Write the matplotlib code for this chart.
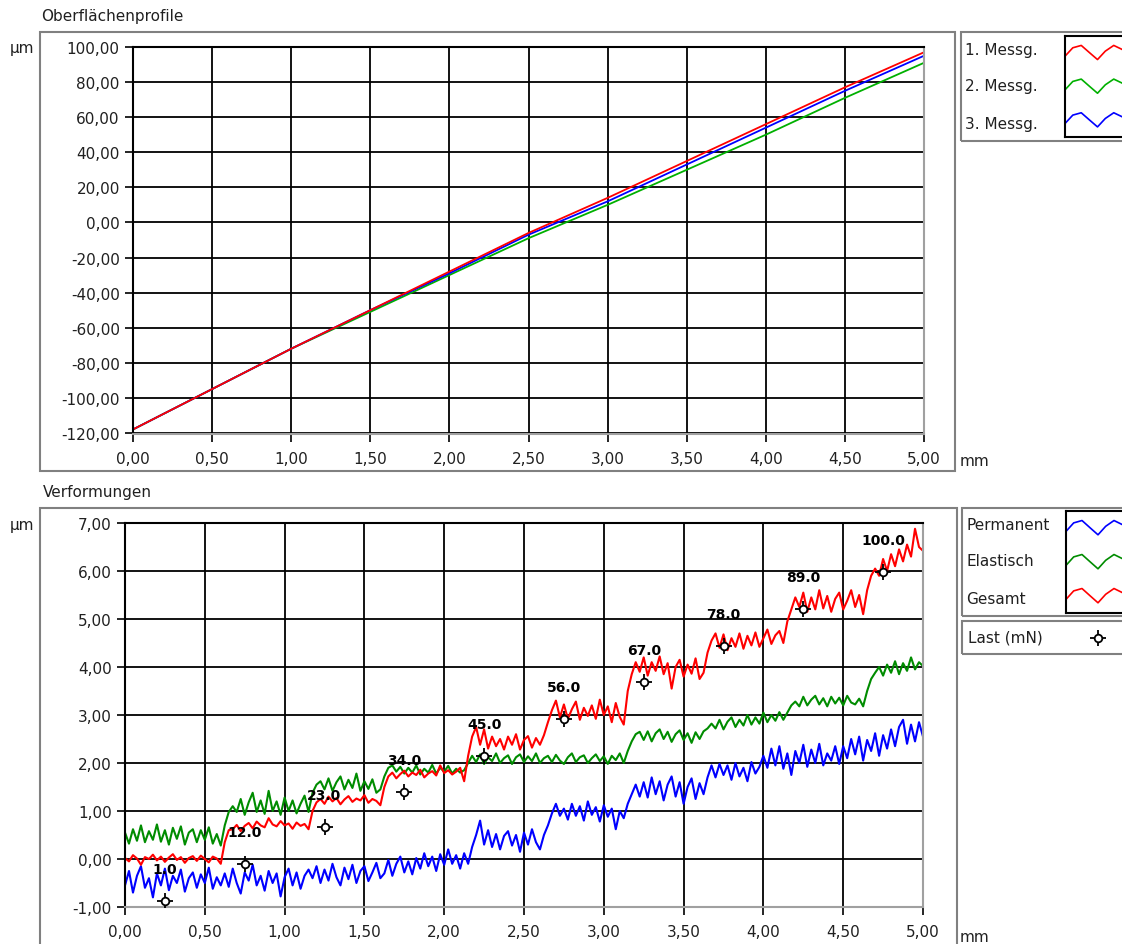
import numpy as np
import matplotlib
matplotlib.use("Agg")
import matplotlib.pyplot as plt
from matplotlib.patches import Rectangle
from matplotlib.ticker import FuncFormatter, MultipleLocator

plt.rcParams['font.family'] = ['DejaVu Sans']

# --- Oberflächenprofile: values read every 0,5 mm
prof_x = [0.0, 0.5, 1.0, 1.5, 2.0, 2.5, 3.0, 3.5, 4.0, 4.5, 5.0]
messg1 = [-118, -95, -72, -50, -28, -6, 14, 35, 56, 77, 97]
messg2 = [-118, -95, -72, -51, -30, -9, 10, 30, 50, 71, 91]
messg3 = [-118, -95, -72, -50, -29, -7, 12, 33, 54, 75, 95]
prof_names = ['1. Messg.', '2. Messg.', '3. Messg.']

# --- Verformungen: one value every 0,025 mm (201 points)
gesamt = [
    0.02, -0.05, 0.08, 0.01, -0.12, 0.04, 0.0, 0.09, -0.03, 0.05,
    -0.06, 0.03, 0.1, -0.02, 0.04, -0.08, 0.02, 0.06, -0.04, 0.07,
    0.0, -0.07, 0.05, 0.01, -0.1, 0.35, 0.6,
    0.62, 0.71, 0.58, 0.69, 0.75, 0.64, 0.78, 0.7, 0.66, 0.85,
    0.72, 0.68, 0.79, 0.7, 0.74, 0.63, 0.76, 0.69, 0.73, 0.62,
    1.0, 1.18,
    1.25, 1.15, 1.3, 1.2, 1.27, 1.14, 1.24, 1.31, 1.19, 1.26,
    1.22, 1.33, 1.17, 1.25, 1.21, 1.12,
    1.5, 1.72,
    1.8, 1.68, 1.77, 1.84, 1.72, 1.8, 1.75, 1.86, 1.7, 1.78,
    1.83, 1.74, 1.95, 1.79, 1.85, 1.76, 1.82, 1.9, 1.62,
    2.15, 2.55, 2.75,
    2.38, 2.7, 2.3, 2.55, 2.35, 2.5, 2.28, 2.55, 2.38, 2.6,
    2.28, 2.48, 2.56, 2.32, 2.52, 2.38, 2.58,
    2.85, 3.1, 3.3,
    2.95, 3.22, 2.92, 3.12, 3.28, 2.9, 3.15, 2.98, 3.2, 2.92,
    3.32, 3.0, 3.18, 2.85, 3.25, 2.96, 2.8,
    3.5, 3.85, 4.1,
    3.9, 4.2, 3.82, 4.1, 3.92, 4.22, 3.85, 4.08, 3.55, 4.0,
    4.15, 3.8, 4.05, 3.86, 4.18, 3.75, 3.88,
    4.3, 4.55, 4.7,
    4.4, 4.68, 4.35, 4.6, 4.42, 4.7, 4.38, 4.65, 4.45, 4.72,
    4.42, 4.6, 4.78, 4.48, 4.66, 4.75, 4.5,
    4.95, 5.2, 5.45,
    5.25, 5.55, 5.15, 5.45, 5.2, 5.6, 5.22, 5.48, 5.15, 5.42,
    5.55, 5.2, 5.38, 5.6, 5.25, 5.5, 5.1,
    5.6, 5.9, 6.05,
    5.9, 6.25, 6.0, 6.35, 6.1, 6.45, 6.2, 6.55, 6.3, 6.88,
    6.5, 6.42,
]
elastisch = [
    0.55, 0.32, 0.62, 0.38, 0.7, 0.35, 0.58, 0.4, 0.72, 0.36,
    0.6, 0.3, 0.65, 0.42, 0.68, 0.3, 0.55, 0.62, 0.35, 0.6,
    0.4, 0.66, 0.32, 0.52, 0.28,
    0.7, 0.98, 1.1,
    0.98, 1.25, 0.92, 1.18, 1.38, 0.98, 1.22, 0.94, 1.42, 1.0,
    1.2, 0.92, 1.28, 1.0, 1.22, 0.95, 1.15, 1.32, 0.98,
    1.38, 1.55, 1.62,
    1.45, 1.68, 1.42, 1.6, 1.72, 1.45, 1.65, 1.48, 1.78, 1.42,
    1.62, 1.46, 1.66, 1.38, 1.45,
    1.72, 1.9, 1.95,
    1.82, 1.92, 1.78, 1.9, 1.8, 1.95, 1.76, 1.88, 1.8, 1.96,
    1.78, 1.9, 1.82, 1.94, 1.78, 1.88, 1.8, 1.85,
    2.0, 2.15, 2.02, 2.18, 1.98, 2.12, 2.04, 2.2, 2.0, 2.1,
    2.16, 1.98, 2.12, 2.18, 2.02, 2.14, 2.04, 2.2, 2.0, 2.1,
    2.15, 2.02, 2.17, 2.05, 1.98, 2.12, 2.2, 2.02, 2.12, 2.16,
    2.0, 2.1, 2.18, 2.04, 2.14, 1.98, 2.15, 2.06, 2.2, 2.0,
    2.25, 2.45, 2.6, 2.65,
    2.48, 2.66, 2.45, 2.62, 2.7, 2.5, 2.65, 2.44, 2.6, 2.68,
    2.48, 2.62, 2.42, 2.64, 2.5, 2.66,
    2.72, 2.82,
    2.72, 2.9, 2.7, 2.86, 2.95, 2.75, 2.9, 2.78, 3.0, 2.8,
    2.95, 2.82, 3.05, 2.85, 3.0, 2.88, 3.06, 2.9,
    3.05, 3.2, 3.28,
    3.18, 3.38, 3.2, 3.32, 3.4, 3.22, 3.35, 3.18, 3.38, 3.24,
    3.36, 3.2, 3.4, 3.26, 3.22, 3.34, 3.18,
    3.5, 3.75, 3.88, 4.0,
    3.82, 4.05, 3.88, 4.12, 3.85, 4.08, 3.92, 4.2, 3.95, 4.1,
    4.02,
]
permanent = [
    -0.55, -0.25, -0.7, -0.35, -0.15, -0.6, -0.4, -0.8, -0.3, -0.55,
    -0.2, -0.65, -0.35, -0.5, -0.22, -0.68, -0.4, -0.28, -0.6, -0.32,
    -0.5, -0.18, -0.62, -0.38, -0.55,
    -0.3, -0.58, -0.2, -0.5, -0.72, -0.28, -0.45, -0.12, -0.55, -0.35,
    -0.66, -0.25, -0.5, -0.3, -0.78, -0.38, -0.2, -0.55, -0.28, -0.62,
    -0.35, -0.22,
    -0.4, -0.15, -0.5, -0.22, -0.45, -0.1, -0.38, -0.55, -0.18, -0.42,
    -0.12, -0.5, -0.25, -0.15, -0.46, -0.28, -0.08, -0.4,
    -0.3, -0.02, -0.35, -0.1, 0.05, -0.28, -0.05, -0.32, 0.02, -0.2,
    0.12, -0.15, 0.05, -0.25, 0.1, -0.12, 0.2, -0.1, 0.08, -0.2,
    0.12, -0.1,
    0.25, 0.5, 0.8,
    0.3, 0.6, 0.25, 0.52, 0.2, 0.48, 0.58, 0.28, 0.5, 0.15,
    0.55, 0.3, 0.62, 0.35, 0.2, 0.5,
    0.7, 0.95, 1.15, 0.9,
    1.05, 0.82, 1.15, 0.9, 1.1, 0.8, 1.2, 0.92, 1.08, 0.78,
    1.12, 0.88, 1.05, 0.62, 1.0, 0.85,
    1.15, 1.35, 1.55, 1.3,
    1.6, 1.28, 1.7, 1.35, 1.62, 1.22, 1.55, 1.72, 1.3, 1.6,
    1.15, 1.5, 1.68, 1.25, 1.58, 1.35,
    1.7, 1.95, 1.7, 1.98,
    1.75, 1.95, 1.65, 2.0, 1.72, 1.9, 1.62, 2.02, 1.78, 1.92,
    2.15, 1.9, 2.3, 1.95, 2.35, 1.88, 2.2, 1.75, 2.25, 2.0,
    2.38, 1.92, 2.28, 2.0, 2.4, 1.95, 2.2, 2.05, 2.35, 1.98,
    2.35, 2.1, 2.5, 2.18, 2.55, 2.05, 2.48, 2.25, 2.62, 2.15,
    2.58, 2.3, 2.7, 2.35, 2.75, 2.9, 2.4, 2.8, 2.45, 2.85,
    2.55,
]
verf_names = ['Permanent', 'Elastisch', 'Gesamt']

# Last (mN) markers
last_x = [0.25, 0.75, 1.25, 1.75, 2.25, 2.75, 3.25, 3.75, 4.25, 4.75]
last_y = [-0.87, -0.10, 0.67, 1.40, 2.15, 2.92, 3.68, 4.44, 5.20, 5.98]
last_labels = ['1.0', '12.0', '23.0', '34.0', '45.0', '56.0', '67.0', '78.0', '89.0', '100.0']

RED, GREEN, BLUE = '#ff0000', '#008c00', '#0000ff'
W, H = 1122, 945


def rect(px0, py0, px1, py1):
    # pixel box (from top-left) -> figure fraction [left, bottom, width, height]
    return [px0 / W, 1 - py1 / H, (px1 - px0) / W, (py1 - py0) / H]


def comma(v, pos):
    return f'{v:.2f}'.replace('.', ',')


def frame_box(fig, px0, py0, px1, py1, lw=1.5):
    l, b, w, h = rect(px0, py0, px1, py1)
    fig.patches.append(Rectangle((l, b), w, h, transform=fig.transFigure,
                                 fill=False, edgecolor='#808080', lw=lw))


def style_axes(ax, xlim, ylim, ystep):
    ax.set_xlim(*xlim)
    ax.set_ylim(*ylim)
    ax.xaxis.set_major_locator(MultipleLocator(0.5))
    ax.yaxis.set_major_locator(MultipleLocator(ystep))
    ax.xaxis.set_major_formatter(FuncFormatter(comma))
    ax.yaxis.set_major_formatter(FuncFormatter(comma))
    ax.grid(True, color='black', lw=1.3)
    ax.set_axisbelow(True)
    ax.tick_params(axis='both', direction='out', length=6, width=1.2,
                   labelsize=11, colors='black', labelcolor='#202020')
    ax.tick_params(axis='x', pad=6)
    for s in ('top', 'left'):
        ax.spines[s].set_color('black')
        ax.spines[s].set_linewidth(1.5)
    for s in ('right', 'bottom'):
        ax.spines[s].set_color('#a0a0a0')
        ax.spines[s].set_linewidth(1.5)


def legend_panel(fig, box, sample_box, names, colors, label_ys):
    frame_box(fig, *box)
    for name, yy in zip(names, label_ys):
        fig.text((box[0] + 4) / W, 1 - yy / H, name, fontsize=11,
                 va='center', ha='left', color='#202020')
    lax = fig.add_axes(rect(*sample_box))
    lax.set_xlim(0, 1)
    lax.set_ylim(0, 3)
    zig_x = [0.0, 0.12, 0.25, 0.38, 0.5, 0.62, 0.75, 0.88, 1.0]
    zig_y = [-0.1, 0.15, 0.22, 0.0, -0.2, 0.05, 0.22, 0.1, -0.1]
    for i, c in enumerate(colors):
        base = 2.5 - i
        lax.plot(zig_x, [base + z for z in zig_y], color=c, lw=1.2)
    lax.set_xticks([])
    lax.set_yticks([])
    for s in lax.spines.values():
        s.set_color('black')
        s.set_linewidth(1.5)


def last_marker(ax, xs, ys, **kw):
    ax.plot(xs, ys, ls='none', marker='+', ms=12, mew=1.3, color='black', zorder=5, **kw)
    ax.plot(xs, ys, ls='none', marker='o', ms=5.5, mew=1.3, mfc='white', mec='black', zorder=6, **kw)


fig = plt.figure(figsize=(W / 100, H / 100), dpi=100)

# ---------------- top panel
frame_box(fig, 40, 33, 955, 472)
fig.text(41 / W, 1 - 16 / H, 'Oberflächenprofile', fontsize=11, va='center', color='#202020')
fig.text(10 / W, 1 - 48 / H, 'µm', fontsize=11, va='center', color='#202020')
fig.text(960 / W, 1 - 462 / H, 'mm', fontsize=11, va='center', color='#202020')

ax1 = fig.add_axes(rect(133, 48, 924, 435))
ax1.plot(prof_x, messg2, color='#00b000', lw=1.3)
ax1.plot(prof_x, messg3, color=BLUE, lw=1.3)
ax1.plot(prof_x, messg1, color=RED, lw=1.3)
style_axes(ax1, (0, 5), (-120.6, 100), 20)

legend_panel(fig, (961, 33, 1130, 142), (1065, 37, 1130, 138), prof_names,
             [RED, '#00b000', BLUE], [50, 87, 124])

# ---------------- bottom panel
frame_box(fig, 40, 509, 957, 950)
fig.text(43 / W, 1 - 492 / H, 'Verformungen', fontsize=11, va='center', color='#202020')
fig.text(10 / W, 1 - 526 / H, 'µm', fontsize=11, va='center', color='#202020')
fig.text(960 / W, 1 - 938 / H, 'mm', fontsize=11, va='center', color='#202020')

ax2 = fig.add_axes(rect(125, 524, 923, 908))
xs = np.linspace(0, 5, len(gesamt))
ax2.plot(xs, permanent, color=BLUE, lw=1.5)
ax2.plot(xs, elastisch, color=GREEN, lw=1.5)
ax2.plot(xs, gesamt, color=RED, lw=1.5)
last_marker(ax2, last_x, last_y)
for lx, ly, lab in zip(last_x, last_y, last_labels):
    ax2.annotate(lab, (lx, ly), xytext=(0, 23), textcoords='offset points',
                 ha='center', va='center', fontsize=10, fontweight='bold', zorder=7)
style_axes(ax2, (0, 5), (-1, 7), 1)

legend_panel(fig, (962, 509, 1130, 617), (1066, 512, 1130, 614), verf_names,
             [BLUE, GREEN, RED], [525, 562, 599])
frame_box(fig, 962, 622, 1130, 655)
fig.text(968 / W, 1 - 638 / H, 'Last (mN)', fontsize=11, va='center', color='#202020')
lg = fig.add_axes(rect(1080, 625, 1116, 652))
lg.set_xlim(0, 1)
lg.set_ylim(0, 1)
lg.axis('off')
last_marker(lg, [0.5], [0.5], clip_on=False)

fig.savefig('out.png', dpi=100)
